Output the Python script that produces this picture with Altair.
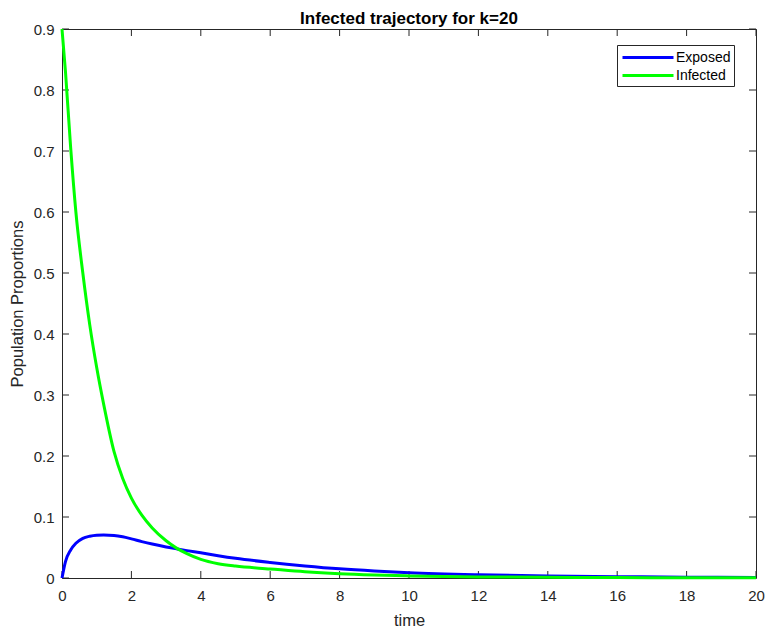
import altair as alt
import pandas as pd

# ---- data ----
time = [0, 0.1, 0.25, 0.4, 0.6, 0.8, 1.0, 1.2, 1.5, 1.75, 2.0, 2.3, 2.6, 3.0, 3.3,
        3.6, 4.0, 4.5, 5, 6, 7, 8, 9, 10, 12, 14, 16, 18, 20]
exposed = [0, 0.027, 0.046, 0.057, 0.065, 0.0685, 0.0702, 0.0706, 0.0698, 0.0676,
           0.0642, 0.0597, 0.0556, 0.0508, 0.0478, 0.0449, 0.0414, 0.0366, 0.0323, 0.0255,
           0.0198, 0.0150, 0.0114, 0.0086, 0.0053, 0.0034, 0.0022, 0.0014, 0.001]
infected = [0.9, 0.83, 0.705, 0.6, 0.5, 0.415, 0.345, 0.285, 0.207, 0.163, 0.131,
            0.103, 0.082, 0.061, 0.049, 0.040, 0.0305, 0.0235, 0.0195, 0.0148, 0.0102,
            0.0070, 0.0049, 0.0034, 0.0018, 0.0011, 0.0007, 0.0005, 0.0003]
series_names = ["Exposed", "Infected"]
series_colors = ["#0000ff", "#00ff00"]
x_ticks = [0, 2, 4, 6, 8, 10, 12, 14, 16, 18, 20]
y_ticks = [0, 0.1, 0.2, 0.3, 0.4, 0.5, 0.6, 0.7, 0.8, 0.9]

W, H = 694, 549
FONT = "Liberation Sans"
AX = "#262626"

n = len(time)
df = pd.DataFrame({
    "time": time * 2,
    "value": exposed + infected,
    "series": [series_names[0]] * n + [series_names[1]] * n,
})
xt = pd.DataFrame({"time": x_ticks})
yt = pd.DataFrame({"value": y_ticks})

xscale = alt.Scale(domain=[0, 20], nice=False, zero=False)
yscale = alt.Scale(domain=[0, 0.9], nice=False)

xaxis = alt.Axis(values=x_ticks, title="time", domain=False, ticks=False, grid=False,
                 labelFlush=False, format="~g",
                 labelFontSize=15, labelFont=FONT, labelColor=AX, labelPadding=10,
                 titleFontSize=16.5, titleFont=FONT, titleFontWeight="normal",
                 titleColor=AX, titlePadding=9)
yaxis = alt.Axis(values=y_ticks, title="Population Proportions", domain=False,
                 ticks=False, grid=False, labelFlush=False, format=".1~f",
                 labelFontSize=15, labelFont=FONT,
                 labelColor=AX, labelPadding=8, titleFontSize=16.5, titleFont=FONT,
                 titleFontWeight="normal", titleColor=AX, titlePadding=8)

legend = alt.Legend(title=None, orient="none", legendX=555, legendY=16,
                    symbolType="M-0.875,0H5.5", symbolSize=256, symbolStrokeWidth=3,
                    labelFontSize=14, labelFont=FONT, labelColor="#000",
                    labelOffset=37, padding=3, strokeColor=AX, fillColor="white",
                    rowPadding=1, cornerRadius=0)

color = alt.Color("series:N", scale=alt.Scale(domain=series_names, range=series_colors),
                  legend=legend)

X = alt.X("time:Q", scale=xscale, axis=xaxis)
Y = alt.Y("value:Q", scale=yscale, axis=yaxis)

base = alt.Chart(df)
exp_line = base.transform_filter(alt.datum.series == "Exposed").mark_line(
    strokeWidth=3, interpolate="monotone").encode(x=X, y=Y, color=color)
inf_line = base.transform_filter(alt.datum.series == "Infected").mark_line(
    strokeWidth=3, interpolate="monotone").encode(x=X, y=Y, color=color)

tk = dict(color=AX, strokeWidth=1)
xb = alt.Chart(xt).mark_rule(**tk).encode(x=X, y=alt.value(H), y2=alt.value(H - 7))
xtp = alt.Chart(xt).mark_rule(**tk).encode(x=X, y=alt.value(0), y2=alt.value(7))
yl = alt.Chart(yt).mark_rule(**tk).encode(y=Y, x=alt.value(0), x2=alt.value(7))
yr = alt.Chart(yt).mark_rule(**tk).encode(y=Y, x=alt.value(W), x2=alt.value(W - 7))

chart = alt.layer(xb, xtp, yl, yr, exp_line, inf_line).properties(
    width=W, height=H,
    padding={"left": 62, "top": 29, "right": 9, "bottom": 55},
    autosize=alt.AutoSizeParams(type="none"),
    title=alt.TitleParams("Infected trajectory for k=20", fontSize=17, fontWeight="bold",
                          font=FONT, color="#000", offset=0, dy=6, anchor="middle",
                          frame="group"),
    background="white",
).configure_view(stroke=AX, strokeWidth=1)

chart.save("out.html", embed_options={"renderer": "svg", "actions": False})
